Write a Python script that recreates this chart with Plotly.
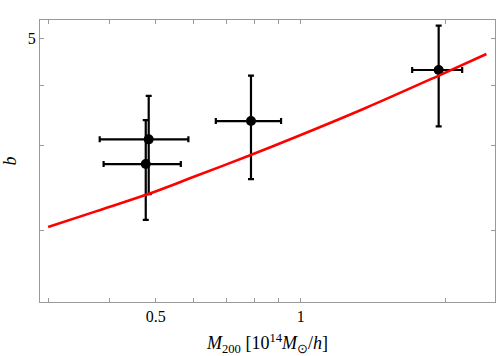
import plotly.graph_objects as go

# measured points: M200 [1e14 Msun/h] vs bias b
mass = [0.4836, 0.4768, 0.7885, 1.934]
mass_err = [0.101, 0.087, 0.122, 0.230]
bias = [3.086, 2.742, 3.368, 4.298]
bias_err = [0.712, 0.642, 0.815, 1.015]

# model curve
curve_m = [0.299, 0.377, 0.479, 0.6, 0.785, 1.0, 1.36, 1.93, 2.43]
curve_b = [2.03, 2.19, 2.37, 2.58, 2.86, 3.15, 3.58, 4.18, 4.64]

x_major = [0.5, 1]
x_minor = [0.3, 0.4, 0.6, 0.7, 0.8, 0.9, 2]
y_major = [5]
y_minor = [2, 3, 4]

fig = go.Figure()

fig.add_trace(go.Scatter(
    x=mass, y=bias, mode="markers",
    marker=dict(color="black", size=10),
    error_x=dict(type="data", array=mass_err, color="black", thickness=2.2, width=3),
    error_y=dict(type="data", array=bias_err, color="black", thickness=2.2, width=3),
    showlegend=False))

fig.add_trace(go.Scatter(
    x=curve_m, y=curve_b, mode="lines", line=dict(color="red", width=2.6, shape="spline"),
    showlegend=False))

axis_style = dict(type="log", showgrid=False, zeroline=False, showline=True, mirror="allticks",
                  linecolor="#9a9a9a", linewidth=1, ticks="inside", ticklen=4, tickcolor="#9a9a9a",
                  automargin=False,
                  tickfont=dict(family="Liberation Serif", size=16, color="black"))

fig.update_xaxes(axis_style, range=[-0.5412, 0.4034], tickmode="array", tickvals=x_major,
                 ticktext=["0.5", "1"],
                 minor=dict(tickmode="array", tickvals=x_minor, ticks="inside", ticklen=4,
                            tickcolor="#9a9a9a", showgrid=False),
                 title=dict(text="<i>M</i><sub>200</sub> [10<sup>14</sup><i>M</i><sub>⊙</sub>/<i>h</i>]",
                            font=dict(family="Liberation Serif", size=18, color="black"), standoff=15))
fig.update_yaxes(axis_style, range=[0.1519, 0.737], tickmode="array", tickvals=y_major,
                 ticktext=["5"],
                 minor=dict(tickmode="array", tickvals=y_minor, ticks="inside", ticklen=4,
                            tickcolor="#9a9a9a", showgrid=False),
                 title=dict(text="<i>b</i>", font=dict(family="Liberation Serif", size=18, color="black"),
                            standoff=10))

fig.update_layout(width=500, height=356, margin=dict(l=40, r=5, t=20, b=54),
                  plot_bgcolor="white", paper_bgcolor="white")

# drop the default page margin so the figure sits at the window corner
fig.write_html("out.html", config={"displayModeBar": False},
               post_script="document.body.style.margin='0';")
